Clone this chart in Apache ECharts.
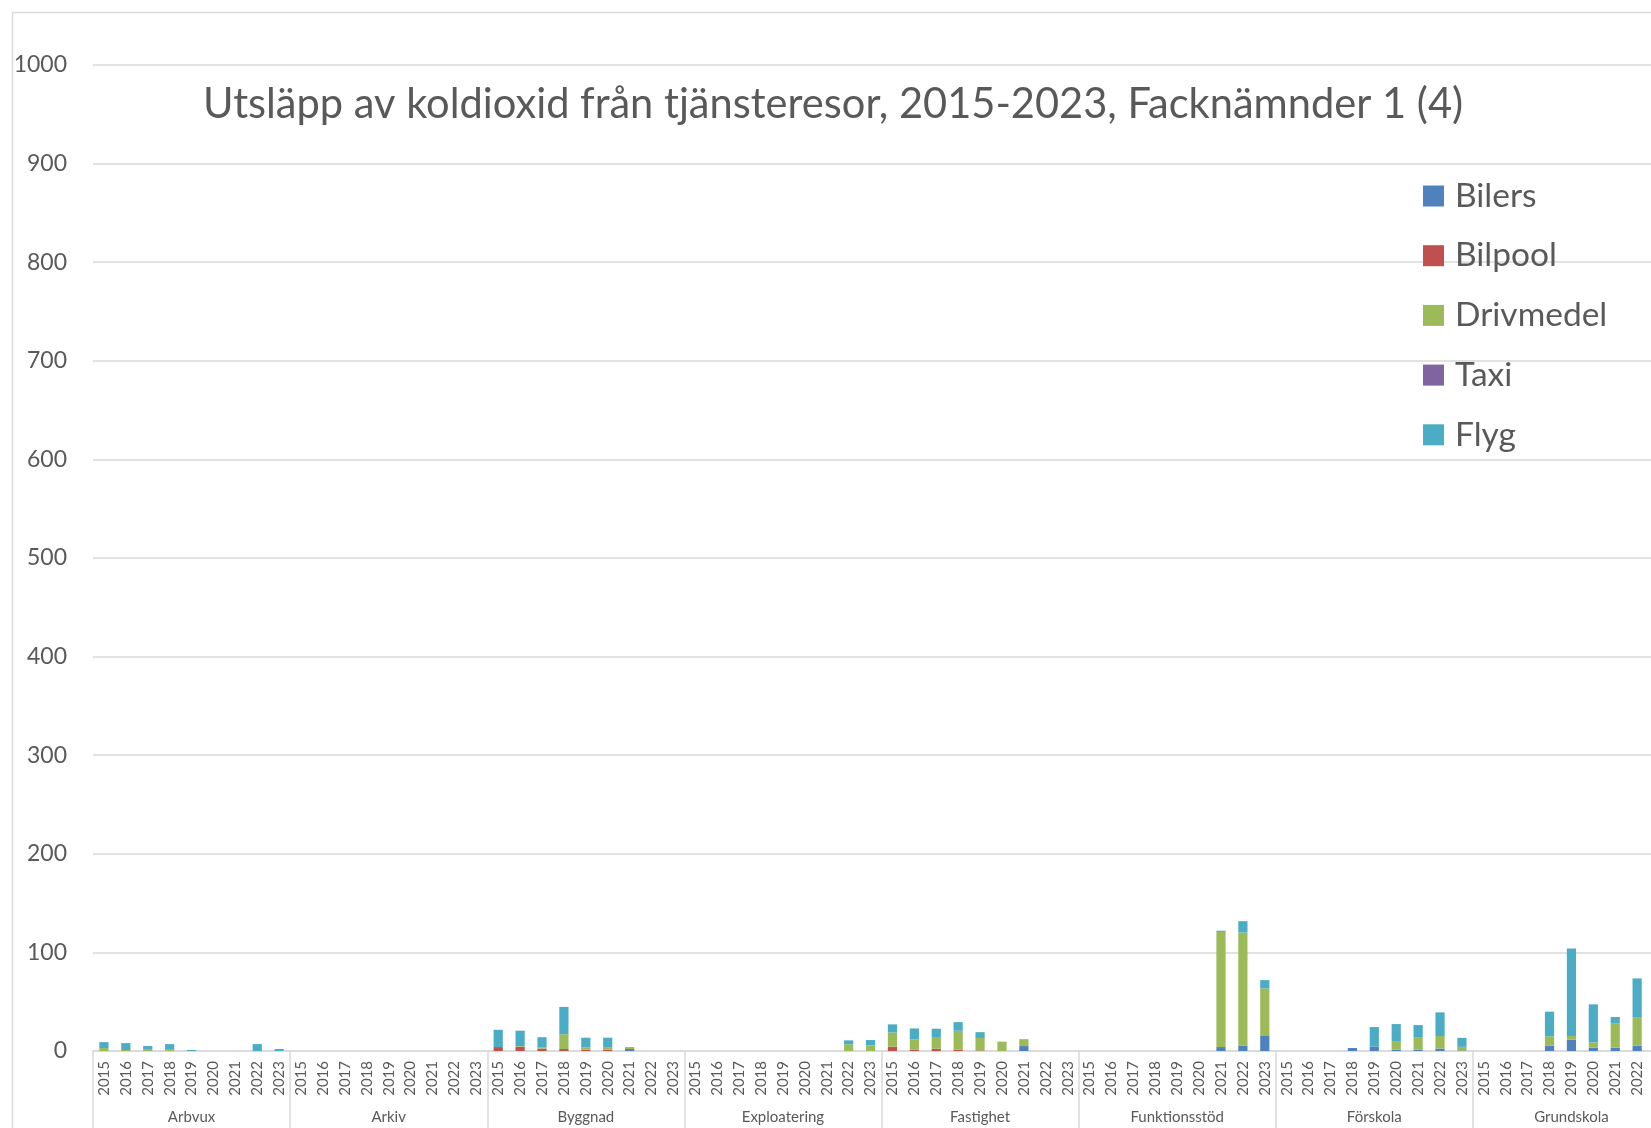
<!DOCTYPE html>
<html>
<head>
<meta charset="utf-8">
<script src="https://cdn.jsdelivr.net/npm/echarts@6/dist/echarts.min.js"></script>
<style>
html,body{margin:0;padding:0;overflow:hidden;background:#fff;width:1651px;height:1128px;}
#chart{width:1690px;height:1128px;}
</style>
</head>
<body>
<div id="chart"></div>
<script>
// ---- data ----
const groups = ['Arbvux','Arkiv','Byggnad','Exploatering','Fastighet','Funktionsstöd','Förskola','Grundskola'];
const years = ['2015','2016','2017','2018','2019','2020','2021','2022','2023'];
const seriesNames = ['Bilers','Bilpool','Drivmedel','Taxi','Flyg'];
const yTicks = [0,100,200,300,400,500,600,700,800,900,1000];

// values per group, 2015..2023 (Grundskola 2023 is outside the visible picture)
const bilers = [
  0,0,0,0,0,0,0,0,0,            // Arbvux
  0,0,0,0,0,0,0,0,0,            // Arkiv
  0,0,0,0,0,0,2,0,0,            // Byggnad
  0,0,0,0,0,0,0,0,0,            // Exploatering
  0,0,0,0,0,0,5,0,0,            // Fastighet
  0,0,0,0,0,0,4,5.4,15.2,       // Funktionsstöd
  0,0,0,3,4.4,1.3,1.3,2.4,0.5,  // Förskola
  0,0,0,5.4,11.5,3.4,3.4,5.4,null // Grundskola
];
const bilpool = [
  0,0,0,0,0,0,0,0,0,
  0,0,0,0,0,0,0,0,0,
  4,4.4,2.4,2,1.3,1.3,0,0,0,
  0,0,0,0,0,0,0,0,0,
  4.4,1.3,2.4,1.3,0.5,0,0,0,0,
  0,0,0,0,0,0,0,0,0,
  0,0,0,0,0,0,0,0,0,
  0,0,0,0,0,0,0,0,null
];
const drivmedel = [
  3,1,2,2,0,0,0,0,0,
  0,0,0,0,0,0,0,0,0,
  0,0.5,1,15,2.4,2.7,2,0,0,
  0,0,0,0,0,0,0,6.8,5.7,
  14.5,10.5,11.8,19.2,12.8,9.5,7,0,0,
  0,0,0,0,0,0,116.8,114.8,48.3,
  0,0,0,0,0,8.1,12.8,12.8,3.7,
  0,0,0,9.5,3.7,5.4,24.3,29,null
];
const taxi = [
  0,0,0,0,0,0,0,0,0,
  0,0,0,0,0,0,0,0,0,
  0,0,0,0,0,0,0,0,0,
  0,0,0,0,0,0,0,0,0,
  0,0,0,0,0.7,0,0,0,0,
  0,0,0,0,0,0,0.7,0,0,
  0,0,0,0,0,0,0,0,0,
  0,0,0,0,0,0,0,0,null
];
const flyg = [
  6,7,3,5,1,0,0,7,2,
  0,0,0,0,0,0,0,0,0,
  17.5,15.7,10.6,27.7,9.8,9.5,0,0,0,
  0,0,0,0,0,0,0,4,5.4,
  8.1,11.1,8.4,8.8,5.1,0,0,0,0,
  0,0,0,0,0,0,0.5,11.5,8.4,
  0,0,0,0,19.9,17.9,12.2,24,9.1,
  0,0,0,25,88.8,38.5,6.8,39.2,null
];
const colors = ['#4F81BD','#C0504D','#9BBB59','#8064A2','#4BACC6'];
const seriesValues = [bilers, bilpool, drivmedel, taxi, flyg];

// ---- chart ----
const yearCats = [];
groups.forEach(g => years.forEach(y => yearCats.push(y)));

const FONT = 'Lato, "Open Sans", sans-serif';
const GRAY = '#595959';
const LINE = '#d9d9d9';

const chart = echarts.init(document.getElementById('chart'), null, {renderer:'canvas'});
chart.setOption({
  animation: false,
  backgroundColor: '#ffffff',
  textStyle: {fontFamily: FONT},
  graphic: [{
    type: 'rect', left: 10, top: 10, z: -10, silent: true,
    shape: {width: 1800, height: 1300},
    style: {fill: 'none', stroke: LINE, lineWidth: 1.5}
  }],
  title: {
    text: 'Utsläpp av koldioxid från tjänsteresor, 2015-2023, Facknämnder 1 (4)',
    left: 203, top: 84, padding: 0,
    textStyle: {fontFamily: FONT, fontSize: 41.6, fontWeight: 'normal', color: GRAY}
  },
  legend: {
    orient: 'vertical', left: 1423, top: 179, padding: 0,
    itemWidth: 21, itemHeight: 21, itemGap: 25.7,
    icon: 'rect',
    data: seriesNames,
    textStyle: {fontFamily: FONT, fontSize: 33.5, color: GRAY, lineHeight: 33, padding: [0,0,0,6]}
  },
  grid: {left: 93, right: 20, top: 65, bottom: 77},
  xAxis: [{
    type: 'category', data: yearCats, position: 'bottom',
    axisLine: {lineStyle: {color: LINE, width: 1.5}},
    axisTick: {show: false},
    axisLabel: {rotate: 90, interval: 0, fontSize: 15, color: GRAY, margin: 10, fontFamily: FONT}
  }, {
    type: 'category', data: groups, position: 'bottom',
    axisLine: {show: false},
    axisTick: {show: true, interval: 0, length: 120, lineStyle: {color: LINE, width: 1.5}},
    axisLabel: {interval: 0, fontSize: 15, color: GRAY, margin: 59, fontFamily: FONT},
    splitLine: {show: false}
  }],
  yAxis: {
    type: 'value', min: 0, max: 1000, interval: 100,
    axisLine: {show: false}, axisTick: {show: false},
    axisLabel: {fontSize: 23, color: GRAY, margin: 26, fontFamily: FONT,
      formatter: v => yTicks.includes(v) ? String(v) : ''},
    splitLine: {lineStyle: {color: LINE, width: 1.5}}
  },
  series: seriesNames.map((n, i) => ({
    name: n, type: 'bar', stack: 'total', xAxisIndex: 0,
    barWidth: '42%',
    itemStyle: {color: colors[i]},
    data: seriesValues[i]
  }))
});
</script>
</body>
</html>
